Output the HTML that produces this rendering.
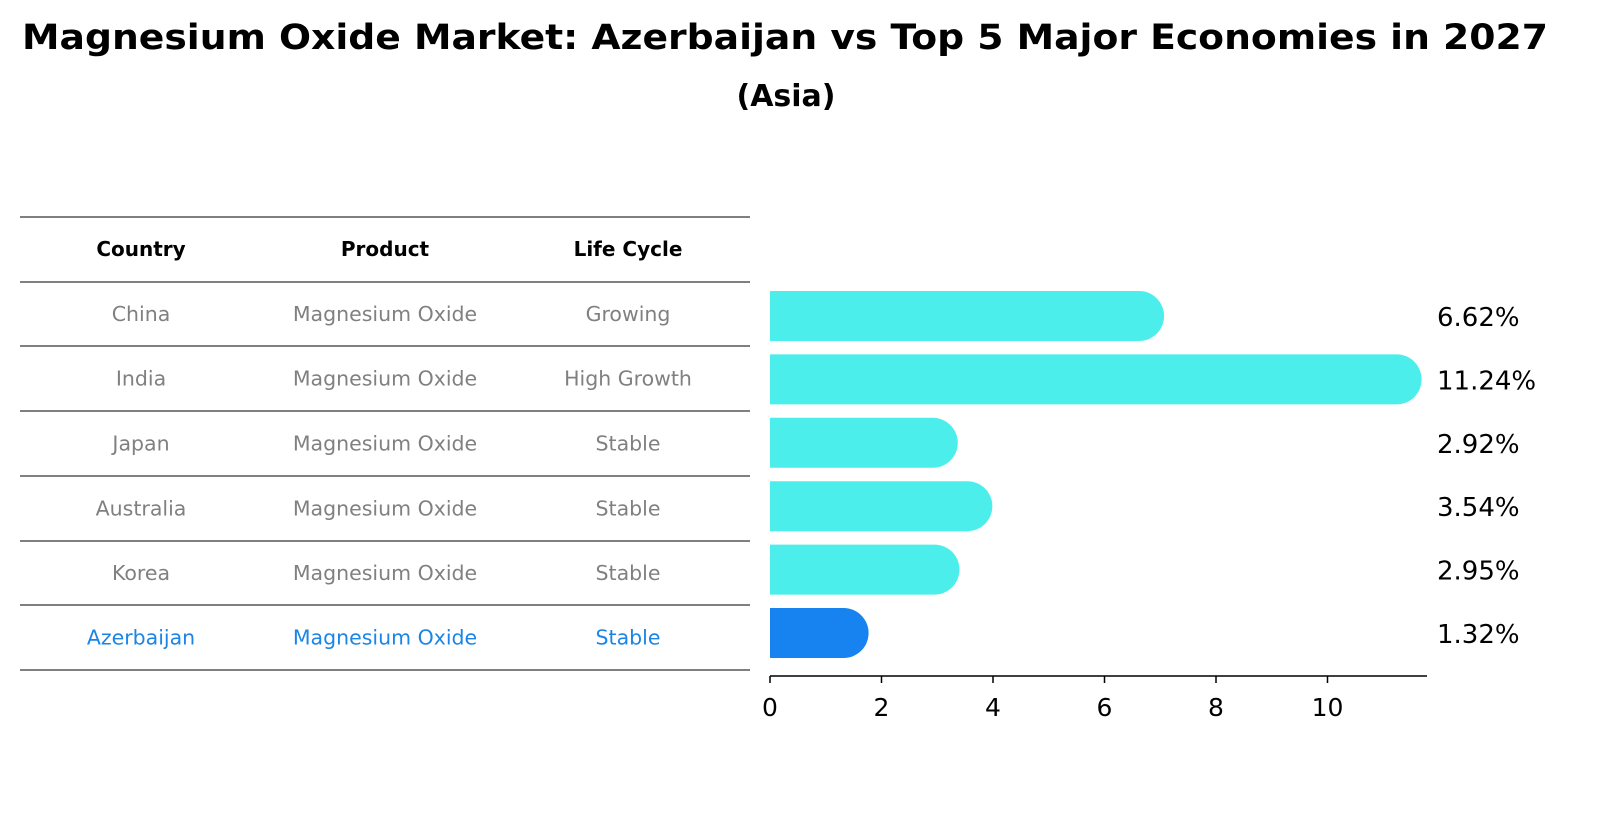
<!DOCTYPE html>
<html><head><meta charset="utf-8"><style>
html,body{margin:0;padding:0;background:#fff;overflow:hidden;width:1613px;height:823px;}
svg{display:block;}
</style></head><body>
<svg width="1613" height="823" xmlns="http://www.w3.org/2000/svg" font-family="DejaVu Sans, Liberation Sans, sans-serif">
<text x="785" y="49" text-anchor="middle" font-size="35" font-weight="bold" textLength="1526" lengthAdjust="spacingAndGlyphs">Magnesium Oxide Market: Azerbaijan vs Top 5 Major Economies in 2027</text>
<text x="786" y="106" text-anchor="middle" font-size="30" font-weight="bold">(Asia)</text>
<g id="table"></g>
<g id="bars"></g>
</svg>
<script>
const countries=["China","India","Japan","Australia","Korea","Azerbaijan"];
const products=["Magnesium Oxide","Magnesium Oxide","Magnesium Oxide","Magnesium Oxide","Magnesium Oxide","Magnesium Oxide"];
const lifeCycles=["Growing","High Growth","Stable","Stable","Stable","Stable"];
const values=[6.62,11.24,2.92,3.54,2.95,1.32];
const valueLabels=["6.62%","11.24%","2.92%","3.54%","2.95%","1.32%"];
const ticks=[0,2,4,6,8,10];
const NS="http://www.w3.org/2000/svg";
function mk(t,a,p){const e=document.createElementNS(NS,t);for(const k in a)e.setAttribute(k,a[k]);p.appendChild(e);return e;}
const tb=document.getElementById('table');
const lineY=[217,282,346,411,476,541,605,670];
lineY.forEach(y=>{const l=mk('line',{x1:20,x2:750,y1:y,y2:y,stroke:'#000','stroke-width':1},tb);

});
const colX=[141,385,628];
["Country","Product","Life Cycle"].forEach((h,i)=>{const t=mk('text',{x:colX[i],y:256,'text-anchor':'middle','font-size':20,'font-weight':'bold'},tb);t.textContent=h;

});
countries.forEach((c,r)=>{const y=(lineY[r+1]+lineY[r+2])/2+7;const col=r===countries.length-1?'#1a85e6':'#808080';
[c,products[r],lifeCycles[r]].forEach((v,i)=>{const t=mk('text',{x:colX[i],y:y,'text-anchor':'middle','font-size':20.5,fill:col},tb);t.textContent=v;

});});
const g=document.getElementById('bars');
const x0=770,ppu=55.75;const xs=v=>x0+v*ppu;
const yc=i=>316+i*63.4;const h=50,rad=25;
values.forEach((v,i)=>{const col=i===values.length-1?'#1783f0':'#4beeeb';const xe=xs(v);const y=yc(i);
const p=mk('path',{d:`M${x0},${y-h/2}H${xe}A${rad},${rad} 0 0 1 ${xe},${y+h/2}H${x0}Z`,fill:col},g);


const t=mk('text',{x:1437,y:y+10,'font-size':26},g);t.textContent=valueLabels[i];

});
const ax=mk('line',{x1:770,x2:1427,y1:676,y2:676,stroke:'#000','stroke-width':1.5},g);


ticks.forEach(tv=>{const x=xs(tv);const l=mk('line',{x1:x,x2:x,y1:676,y2:683,stroke:'#000','stroke-width':1.5},g);


const t=mk('text',{x:x,y:716,'text-anchor':'middle','font-size':25},g);t.textContent=tv;

});
</script>
</body></html>
